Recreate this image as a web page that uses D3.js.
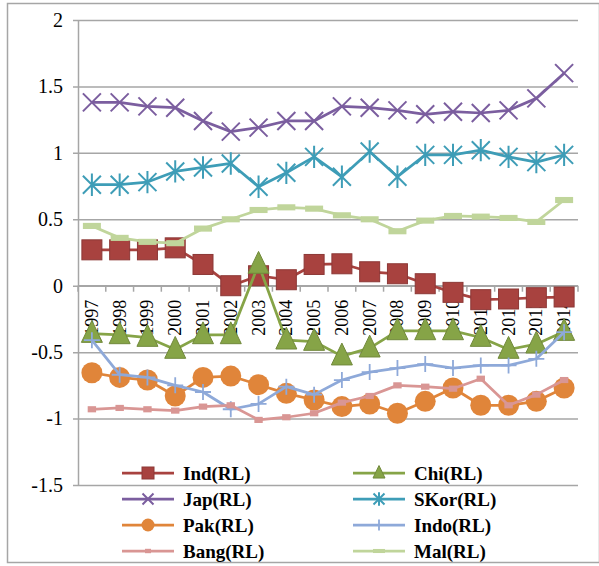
<!DOCTYPE html>
<html>
<head>
<meta charset="utf-8">
<script src="https://cdn.jsdelivr.net/npm/d3@7"></script>
<style>
  body { margin: 0; background: #fff; }
</style>
</head>
<body>
<div id="chart"></div>
<script>
const years = ['1997','1998','1999','2000','2001','2002','2003','2004','2005','2006','2007','2008','2009','2010','2011','2012','2013','2014'];
const yTicks = [-1.5, -1, -0.5, 0, 0.5, 1, 1.5, 2];

const ind  = [0.27, 0.27, 0.27, 0.285, 0.16, 0.0, 0.075, 0.045, 0.16, 0.165, 0.105, 0.09, 0.015, -0.05, -0.105, -0.10, -0.09, -0.085];
const chi  = [-0.36, -0.37, -0.39, -0.48, -0.37, -0.37, 0.16, -0.41, -0.42, -0.53, -0.47, -0.34, -0.34, -0.34, -0.39, -0.48, -0.44, -0.345];
const jap  = [1.38, 1.38, 1.35, 1.34, 1.24, 1.16, 1.19, 1.24, 1.24, 1.35, 1.34, 1.32, 1.29, 1.31, 1.30, 1.32, 1.41, 1.60];
const skor = [0.76, 0.76, 0.78, 0.86, 0.89, 0.92, 0.745, 0.85, 0.97, 0.82, 1.01, 0.82, 0.985, 0.985, 1.02, 0.97, 0.93, 0.985];
const pak  = [-0.655, -0.69, -0.71, -0.83, -0.69, -0.68, -0.745, -0.81, -0.86, -0.91, -0.89, -0.96, -0.87, -0.77, -0.90, -0.90, -0.87, -0.77];
const indo = [-0.41, -0.67, -0.69, -0.75, -0.80, -0.93, -0.89, -0.76, -0.82, -0.71, -0.65, -0.62, -0.59, -0.62, -0.60, -0.60, -0.55, -0.35];
const bang = [-0.93, -0.92, -0.93, -0.94, -0.91, -0.90, -1.01, -0.99, -0.96, -0.88, -0.83, -0.75, -0.76, -0.775, -0.70, -0.90, -0.82, -0.71];
const mal  = [0.45, 0.36, 0.33, 0.32, 0.43, 0.50, 0.57, 0.59, 0.58, 0.53, 0.50, 0.41, 0.49, 0.525, 0.52, 0.51, 0.48, 0.645];

const series = [
  {name: 'Ind(RL)',  values: ind,  color: '#A8423F', marker: 'square'},
  {name: 'Chi(RL)',  values: chi,  color: '#86A447', marker: 'triangle'},
  {name: 'Jap(RL)',  values: jap,  color: '#7B5E9F', marker: 'x'},
  {name: 'SKor(RL)', values: skor, color: '#3E9DB7', marker: 'star'},
  {name: 'Pak(RL)',  values: pak,  color: '#E0853A', marker: 'circle'},
  {name: 'Indo(RL)', values: indo, color: '#8EA9D9', marker: 'plus'},
  {name: 'Bang(RL)', values: bang, color: '#D99694', marker: 'smallsquare'},
  {name: 'Mal(RL)',  values: mal,  color: '#C0D59B', marker: 'dash'}
];

const serif = '"Liberation Serif", "Times New Roman", Tinos, "Nimbus Roman", FreeSerif, "DejaVu Serif", serif';
const width = 599, height = 566;
const marginLeft = 78, marginRight = 21, marginTop = 20, marginBottom = 81;

const svg = d3.select('#chart').append('svg')
  .attr('width', width).attr('height', height)
  .attr('font-family', serif);

// outer frame
svg.append('rect')
  .attr('x', 7.5).attr('y', 3.5)
  .attr('width', 592).attr('height', 559)
  .attr('fill', 'none').attr('stroke', '#A6A6A6').attr('stroke-width', 1.5);

const x = d3.scaleBand().domain(years).range([marginLeft, width - marginRight]).padding(0);
const y = d3.scaleLinear().domain([-1.5, 2]).range([height - marginBottom, marginTop]);
const cx = d => x(d) + x.bandwidth() / 2;

// y gridlines + labels
const yAxis = d3.axisLeft(y).tickValues(yTicks)
  .tickSize(-(width - marginRight - marginLeft))
  .tickSizeOuter(0)
  .tickPadding(15)
  .tickFormat(d => String(d));
const gy = svg.append('g').attr('transform', `translate(${marginLeft},0)`).call(yAxis)
  .attr('font-family', serif);
gy.select('.domain').attr('stroke', '#A6A6A6').attr('stroke-width', 1.5);
gy.selectAll('.tick line').attr('stroke', '#A6A6A6').attr('stroke-width', 1.5).attr('x1', -5);
gy.selectAll('.tick text').attr('font-size', 20).attr('fill', '#000');

// x axis at zero
const gx = svg.append('g').attr('transform', `translate(0,${y(0)})`);
gx.append('line').attr('x1', marginLeft).attr('x2', width - marginRight)
  .attr('stroke', '#A6A6A6').attr('stroke-width', 1.5);
gx.selectAll('line.tk').data(years.concat(['end'])).join('line').attr('class', 'tk')
  .attr('x1', (d, i) => marginLeft + i * x.bandwidth())
  .attr('x2', (d, i) => marginLeft + i * x.bandwidth())
  .attr('y1', 0).attr('y2', 6)
  .attr('stroke', '#A6A6A6').attr('stroke-width', 1.5);
gx.selectAll('text').data(years).join('text')
  .attr('transform', d => `translate(${cx(d)},14) rotate(-90)`)
  .attr('text-anchor', 'end')
  .attr('dominant-baseline', 'central')
  .attr('font-size', 18)
  .text(d => d);

function drawMarker(g, type, color, s) {
  switch (type) {
    case 'square':
      g.append('rect').attr('x', -s/2).attr('y', -s/2).attr('width', s).attr('height', s)
        .attr('fill', color).attr('stroke', '#8C3836').attr('stroke-width', 1);
      break;
    case 'triangle':
      g.append('path').attr('d', `M0,${-s*0.62}L${s/2},${s*0.42}L${-s/2},${s*0.42}Z`)
        .attr('fill', color).attr('stroke', '#71893B').attr('stroke-width', 1);
      break;
    case 'x':
      g.append('path').attr('d', `M${-s/2},${-s/2}L${s/2},${s/2}M${s/2},${-s/2}L${-s/2},${s/2}`)
        .attr('stroke', color).attr('stroke-width', 2);
      break;
    case 'star':
      g.append('path').attr('d', `M${-s/2},${-s/2}L${s/2},${s/2}M${s/2},${-s/2}L${-s/2},${s/2}M0,${-s*0.62}L0,${s*0.62}`)
        .attr('stroke', color).attr('stroke-width', 2);
      break;
    case 'circle':
      g.append('circle').attr('r', s/2).attr('fill', color);
      break;
    case 'plus':
      g.append('path').attr('d', `M0,${-s/2}L0,${s/2}M${-s/2},0L${s/2},0`)
        .attr('stroke', color).attr('stroke-width', 1.8);
      break;
    case 'smallsquare':
      g.append('rect').attr('x', -s*0.3).attr('y', -s*0.22).attr('width', s*0.6).attr('height', s*0.44)
        .attr('fill', color);
      break;
    case 'dash':
      g.append('rect').attr('x', -s/2).attr('y', -s*0.17).attr('width', s).attr('height', s*0.34)
        .attr('fill', color);
      break;
  }
}

const markerSize = {square: 20, triangle: 21, x: 18, star: 18, circle: 21, plus: 16, smallsquare: 14, dash: 18};

const line = d3.line().x((d, i) => cx(years[i])).y(d => y(d));

series.forEach(s => {
  const g = svg.append('g');
  g.append('path').datum(s.values).attr('d', line)
    .attr('fill', 'none').attr('stroke', s.color).attr('stroke-width', 2.75)
    .attr('stroke-linejoin', 'round');
  s.values.forEach((v, i) => {
    const mg = g.append('g').attr('transform', `translate(${cx(years[i])},${y(v)})`);
    drawMarker(mg, s.marker, s.color, markerSize[s.marker]);
  });
});

// legend
const legendMarker = {square: 12, triangle: 12, x: 11, star: 11, circle: 13, plus: 11, smallsquare: 10, dash: 12};
const lg = svg.append('g');
series.forEach((s, i) => {
  const col = i % 2, row = Math.floor(i / 2);
  const lx = col === 0 ? 122 : 353;
  const ly = 473 + row * 26;
  const item = lg.append('g').attr('transform', `translate(${lx},${ly})`);
  item.append('line').attr('x1', 0).attr('x2', 52).attr('stroke', s.color).attr('stroke-width', 2.75);
  drawMarker(item.append('g').attr('transform', 'translate(26,0)'), s.marker, s.color, legendMarker[s.marker]);
  item.append('text').attr('x', 61).attr('y', 7)
    .attr('font-size', 19).attr('font-weight', 'bold').text(s.name);
});
</script>
</body>
</html>
